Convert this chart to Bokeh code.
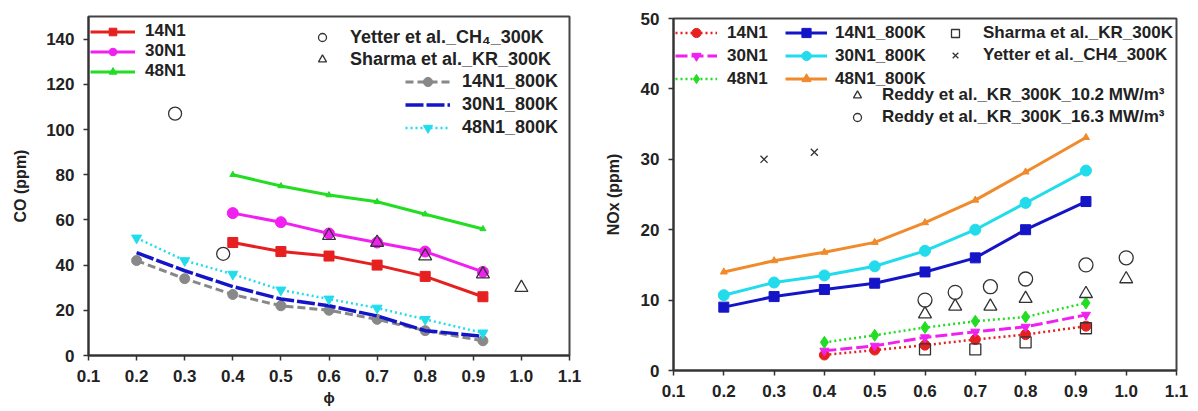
from bokeh.plotting import figure
from bokeh.models import Legend, LegendItem, FixedTicker, PrintfTickFormatter, Range1d
from bokeh.embed import file_html
from bokeh.resources import INLINE

# ---------------- data ----------------
x_ticks = [0.1, 0.2, 0.3, 0.4, 0.5, 0.6, 0.7, 0.8, 0.9, 1.0, 1.1]
co_ticks = [0, 20, 40, 60, 80, 100, 120, 140]
nox_ticks = [0, 10, 20, 30, 40, 50]

phi_800 = [0.2, 0.3, 0.4, 0.5, 0.6, 0.7, 0.8, 0.92]
phi_300 = [0.4, 0.5, 0.6, 0.7, 0.8, 0.92]

co_14N1 = [50, 46, 44, 40, 35, 26]
co_30N1 = [63, 59, 54, 50, 46, 37]
co_48N1 = [80, 75, 71, 68, 62.5, 56]
co_14N1_800K = [42, 34, 27, 22, 20, 16, 11, 6.5]
co_30N1_800K = [45.5, 37.5, 30.5, 25, 22, 17.5, 11, 8.5]
co_48N1_800K = [52, 42, 36, 29, 25, 21, 16, 10]
co_yetter_phi = [0.28, 0.38]
co_yetter = [107, 45]
co_sharma_phi = [0.6, 0.7, 0.8, 0.92, 1.0]
co_sharma = [53, 50, 44, 36, 30]

nox_14N1 = [2.2, 2.9, 3.6, 4.4, 5.1, 6.3]
nox_30N1 = [2.8, 3.5, 4.7, 5.5, 6.2, 7.9]
nox_48N1 = [4.0, 5.0, 6.1, 7.0, 7.6, 9.6]
nox_14N1_800K = [9, 10.5, 11.5, 12.4, 14, 16, 20, 24]
nox_30N1_800K = [10.7, 12.5, 13.5, 14.8, 17, 20, 23.8, 28.4]
nox_48N1_800K = [14, 15.6, 16.8, 18.2, 21, 24.2, 28.2, 33.1]
nox_sharma_phi = [0.6, 0.7, 0.8, 0.92]
nox_sharma = [3, 3, 4, 6]
nox_yetter_phi = [0.28, 0.38]
nox_yetter = [30, 31]
nox_reddy_phi = [0.6, 0.66, 0.73, 0.8, 0.92, 1.0]
nox_reddy_10 = [8, 9.1, 9.1, 10.2, 10.9, 13]
nox_reddy_16 = [10, 11.1, 11.9, 13, 15, 16]

# ---------------- style ----------------
FONT = "Liberation Sans"
RED = "#e62020"
MAG = "#f020f0"
GRN = "#22dd22"
GRAY = "#888888"
BLUE = "#1515c8"
CYAN = "#22dcec"
ORNG = "#f08a2a"
DARK = "#444444"


def make_fig(width, left, right, top, bottom, ymax, yticks, ylabel, xlabel):
    p = figure(width=width, height=411, output_backend="svg", toolbar_location=None,
               x_range=Range1d(0.1, 1.1), y_range=Range1d(0, ymax),
               min_border_left=left, min_border_right=right,
               min_border_top=top, min_border_bottom=bottom)
    p.grid.visible = False
    p.outline_line_color = DARK
    p.outline_line_width = 2
    p.xaxis.ticker = FixedTicker(ticks=x_ticks)
    p.xaxis.formatter = PrintfTickFormatter(format="%.1f")
    p.yaxis.ticker = FixedTicker(ticks=yticks)
    for ax in (p.xaxis[0], p.yaxis[0]):
        ax.axis_line_color = "#333333"
        ax.axis_line_width = 2
        ax.major_tick_line_color = "#333333"
        ax.major_tick_line_width = 1.5
        ax.major_tick_out = 5
        ax.major_tick_in = 0
        ax.minor_tick_out = 0
        ax.minor_tick_in = 0
        ax.major_label_text_font = FONT
        ax.major_label_text_font_style = "bold"
        ax.major_label_text_font_size = "17px"
        ax.major_label_text_color = "#222222"
        ax.axis_label_text_font = FONT
        ax.axis_label_text_font_style = "bold"
        ax.axis_label_text_font_size = "16px"
        ax.axis_label_text_color = "#222222"
    p.yaxis.axis_label = ylabel
    p.yaxis.major_label_standoff = 9
    p.yaxis.axis_label_standoff = 14
    p.xaxis.major_label_standoff = 9
    p.xaxis.axis_label_standoff = 4
    p.xaxis.axis_label = xlabel
    return p


def add_legend(p, items, left, top, h, glyph_w, standoff, frame_h, fs=17):
    n = len(items)
    hh = max(h, round(fs * 1.17))
    leg = Legend(items=items, location=(left, frame_h - top - n * hh))
    leg.padding = 0
    leg.spacing = 0
    leg.margin = 0
    leg.label_height = h
    leg.glyph_height = h
    leg.glyph_width = glyph_w
    leg.label_standoff = standoff
    leg.background_fill_alpha = 0
    leg.border_line_alpha = 0
    leg.label_text_font = FONT
    leg.label_text_font_style = "bold"
    leg.label_text_font_size = "%dpx" % fs
    leg.label_text_color = "#222222"
    p.add_layout(leg)


def series(p, x, y, color, marker, size, dash="solid", lw=3):
    l = p.line(x, y, line_color=color, line_width=lw, line_dash=dash)
    m = p.scatter(x, y, marker=marker, size=size, fill_color=color, line_color=color)
    return [l, m]


def points(p, x, y, marker, size):
    return [p.scatter(x, y, marker=marker, size=size, fill_color=None,
                      line_color="#333333", line_width=1.3)]


# ---------------- left: CO ----------------
p1 = make_fig(590, 88, 21, 16, 56, 150, co_ticks, "CO (ppm)", "\u03d5")
p1.xaxis.axis_label_text_font_size = "15px"
FH1 = 339
r_14 = series(p1, phi_300, co_14N1, RED, "square", 10)
r_30 = series(p1, phi_300, co_30N1, MAG, "circle", 11)
r_48 = series(p1, phi_300, co_48N1, GRN, "triangle", 6)
r_14h = series(p1, phi_800, co_14N1_800K, GRAY, "circle", 10, dash="8 4")
l_30h = p1.line(phi_800, co_30N1_800K, line_color=BLUE, line_width=3.5, line_dash="18 3")
r_48h = series(p1, phi_800, co_48N1_800K, CYAN, "inverted_triangle", 10, dash="2 3", lw=2.5)
r_y = points(p1, co_yetter_phi, co_yetter, "circle", 13)
r_s = points(p1, co_sharma_phi, co_sharma, "triangle", 13)

add_legend(p1, [LegendItem(label="14N1", renderers=r_14),
                LegendItem(label="30N1", renderers=r_30),
                LegendItem(label="48N1", renderers=r_48)],
           left=2, top=5, h=19, glyph_w=45, standoff=10, frame_h=FH1, fs=17)
add_legend(p1, [LegendItem(label="Yetter et al._CH\u2084_300K", renderers=r_y),
                LegendItem(label="Sharma et al._KR_300K", renderers=r_s)],
           left=224, top=10, h=22, glyph_w=20, standoff=18, frame_h=FH1, fs=18)
add_legend(p1, [LegendItem(label="14N1_800K", renderers=r_14h),
                LegendItem(label="30N1_800K", renderers=[l_30h]),
                LegendItem(label="48N1_800K", renderers=r_48h)],
           left=317, top=54, h=23, glyph_w=45, standoff=12, frame_h=FH1, fs=18)

# ---------------- right: NOx ----------------
p2 = make_fig(608, 83, 22, 18, 41, 50, nox_ticks, "NOx (ppm)", None)
p2.yaxis.axis_label_standoff = 16
FH2 = 352
q_14 = series(p2, phi_300, nox_14N1, RED, "circle", 10, dash="2 3", lw=2.5)
q_30 = series(p2, phi_300, nox_30N1, MAG, "inverted_triangle", 9, dash="12 4", lw=3)
q_48 = series(p2, phi_300, nox_48N1, GRN, "diamond", 12, dash="2 3", lw=2.5)
q_14h = series(p2, phi_800, nox_14N1_800K, BLUE, "square", 10)
q_30h = series(p2, phi_800, nox_30N1_800K, CYAN, "circle", 11)
q_48h = series(p2, phi_800, nox_48N1_800K, ORNG, "triangle", 7)
q_s = points(p2, nox_sharma_phi, nox_sharma, "square", 11)
q_y = points(p2, nox_yetter_phi, nox_yetter, "x", 10)
q_r10 = points(p2, nox_reddy_phi, nox_reddy_10, "triangle", 13)
q_r16 = points(p2, nox_reddy_phi, nox_reddy_16, "circle", 14)

add_legend(p2, [LegendItem(label="14N1", renderers=q_14),
                LegendItem(label="30N1", renderers=q_30),
                LegendItem(label="48N1", renderers=q_48)],
           left=2, top=3, h=23, glyph_w=42, standoff=10, frame_h=FH2)
add_legend(p2, [LegendItem(label="14N1_800K", renderers=q_14h),
                LegendItem(label="30N1_800K", renderers=q_30h),
                LegendItem(label="48N1_800K", renderers=q_48h)],
           left=112, top=3, h=23, glyph_w=42, standoff=8, frame_h=FH2)
add_legend(p2, [LegendItem(label="Sharma et al._KR_300K", renderers=q_s),
                LegendItem(label="Yetter et al._CH4_300K", renderers=q_y)],
           left=272, top=4, h=22, glyph_w=20, standoff=18, frame_h=FH2)
add_legend(p2, [LegendItem(label="Reddy et al._KR_300K_10.2 MW/m\u00b3", renderers=q_r10),
                LegendItem(label="Reddy et al._KR_300K_16.3 MW/m\u00b3", renderers=q_r16)],
           left=174, top=66, h=22, glyph_w=20, standoff=15, frame_h=FH2)

# two independent roots side by side (no border alignment between the plots)
TEMPLATE = """
{% block contents %}
{%- from macros import embed -%}
<div style="display:flex;flex-direction:row;align-items:flex-start;">
{%- for doc in docs -%}{%- for root in doc.roots -%}
{{ embed(root) }}
{%- endfor -%}{%- endfor -%}
</div>
{% endblock %}
"""

open("out.html", "w").write(file_html([p1, p2], INLINE, template=TEMPLATE))
